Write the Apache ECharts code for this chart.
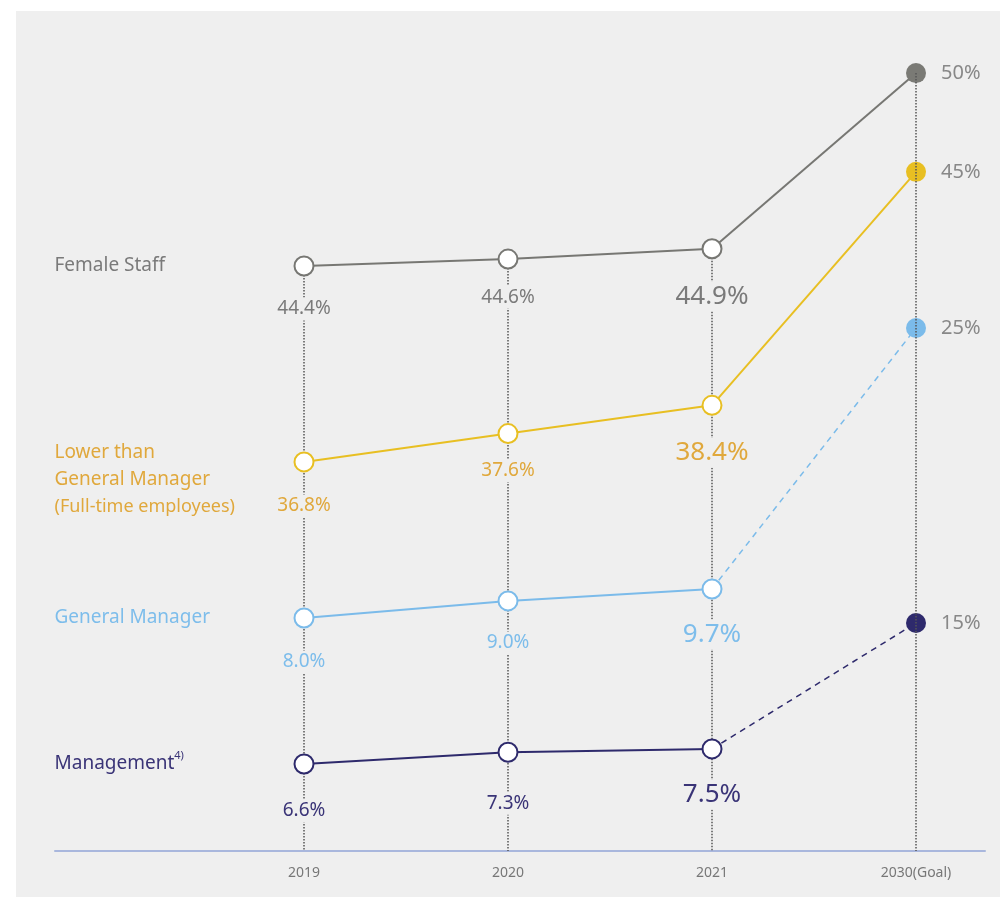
<!DOCTYPE html>
<html lang="en">
<head>
<meta charset="UTF-8">
<title>Female ratio</title>
<script src="https://cdn.jsdelivr.net/npm/echarts@6/dist/echarts.min.js"></script>
<style>
    html, body { margin: 0; padding: 0; background: #fff; }
    #main { position: absolute; left: 16px; top: 11px; width: 984px; height: 886px; background: #efefef; }
</style>
</head>
<body>
<div id="main"></div>
<script>
    // data
    var years = ['2019', '2020', '2021', '2030(Goal)'];
    var femaleStaff = [44.4, 44.6, 44.9, 50];
    var lowerThanGM = [36.8, 37.6, 38.4, 45];
    var generalManager = [8.0, 9.0, 9.7, 25];
    var management = [6.6, 7.3, 7.5, 15];
    var seriesNames = ['Female Staff', 'Lower than\nGeneral Manager\n{s|(Full-time employees)}', 'General Manager', 'Management{sup|4)}'];

    var FONT = '"Noto Sans", sans-serif';
    var BG = '#efefef';

    // each row sits in its own band -> own hidden y axis
    var bands = [
        {values: femaleStaff, min: 27.42, max: 51.25, line: '#777773', text: '#7a7a7a', dot: '#7a7a75', dashed: false, nameDy: 0, labDist: [21, 16, 24]},
        {values: lowerThanGM, min: 25.8, max: 49.01, line: '#e8bf22', text: '#e0a83c', dot: '#e8bf22', dashed: false, nameDy: 18, labDist: [22, 15, 24]},
        {values: generalManager, min: -5.66, max: 42.47, line: '#7bbbea', text: '#7dbdeb', dot: '#7bbbea', dashed: true, nameDy: 0, labDist: [22, 20, 22]},
        {values: management, min: 1.42, max: 50.32, line: '#2e2a6c', text: '#3a3477', dot: '#2e2a6c', dashed: true, nameDy: 0, labDist: [25, 29, 22]}
    ];

    var series = [];

    // dotted guide lines from the top row down to the axis
    series.push({
        type: 'line',
        xAxisIndex: 0,
        yAxisIndex: 0,
        data: [],
        z: 1,
        markLine: {
            silent: true,
            animation: false,
            symbol: ['none', 'none'],
            label: {show: false},
            lineStyle: {type: 'dotted', color: '#555', width: 1.5},
            data: femaleStaff.map(function (v, i) {
                return [{coord: [i, v]}, {coord: [i, bands[0].min]}];
            })
        }
    });

    bands.forEach(function (b, k) {
        var actual = b.values.slice(0, 3).map(function (v, i) {
            return {
                value: v,
                label: {fontSize: i === 2 ? 26 : 19, distance: b.labDist[i] - (i === 2 ? 2 : 0)}
            };
        });
        series.push({
            type: 'line',
            xAxisIndex: 0,
            yAxisIndex: k,
            data: actual,
            z: 5,
            symbol: 'circle',
            symbolSize: 19,
            itemStyle: {color: '#fff', borderColor: b.line, borderWidth: 2},
            lineStyle: {color: b.line, width: 2},
            label: {
                show: true,
                position: 'bottom',
                color: b.text,
                fontFamily: FONT,
                backgroundColor: BG,
                padding: [2, 4],
                formatter: function (p) { return p.value.toFixed(1) + '%'; }
            },
            markPoint: {
                silent: true,
                animation: false,
                symbol: 'circle',
                symbolSize: 1,
                itemStyle: {color: 'transparent'},
                label: {
                    show: true,
                    position: [-249, b.nameDy],
                    align: 'left',
                    verticalAlign: 'middle',
                    color: b.text,
                    fontFamily: FONT,
                    fontSize: 19,
                    lineHeight: 27,
                    formatter: seriesNames[k],
                    rich: {
                        s: {fontSize: 18, color: b.text, fontFamily: FONT, lineHeight: 27},
                        sup: {fontSize: 11, color: b.text, fontFamily: FONT, verticalAlign: 'top', lineHeight: 22}
                    }
                },
                data: [{coord: [0, b.values[0]]}]
            }
        });

        // goal segment 2021 -> 2030
        series.push({
            type: 'line',
            xAxisIndex: 0,
            yAxisIndex: k,
            z: 4,
            data: ['-', '-', {value: b.values[2], symbol: 'none'}, {
                value: b.values[3],
                symbol: 'circle',
                symbolSize: 20,
                itemStyle: {color: b.dot},
                label: {
                    show: true,
                    position: 'right',
                    distance: 15,
                    color: '#888',
                    fontSize: 20,
                    fontFamily: FONT,
                    formatter: function (p) { return p.value + '%'; }
                }
            }],
            lineStyle: b.dashed ? {color: b.line, width: 1.5, type: [6, 5]} : {color: b.line, width: 2}
        });
    });

    var myChart = echarts.init(document.getElementById('main'));

    var option = {
        animation: false,
        textStyle: {fontFamily: FONT},
        grid: [
            {left: 288, right: 84, top: 19, bottom: 46},
            {left: 39, right: 15, top: 830, bottom: 46}
        ],
        xAxis: [
            {
                gridIndex: 0,
                type: 'category',
                data: years,
                boundaryGap: false,
                axisLine: {show: false},
                axisTick: {show: false},
                splitLine: {show: false},
                axisLabel: {color: '#777', fontSize: 14, margin: 15, fontFamily: FONT}
            },
            {
                gridIndex: 1,
                type: 'category',
                data: [],
                axisLine: {show: true, lineStyle: {color: '#a9b7dd', width: 2}},
                axisTick: {show: false},
                axisLabel: {show: false},
                splitLine: {show: false}
            }
        ],
        yAxis: bands.map(function (b) {
            return {gridIndex: 0, type: 'value', show: false, min: b.min, max: b.max, splitLine: {show: false}};
        }).concat([{gridIndex: 1, type: 'value', show: false}]),
        series: series
    };

    myChart.setOption(option);
</script>
</body>
</html>
